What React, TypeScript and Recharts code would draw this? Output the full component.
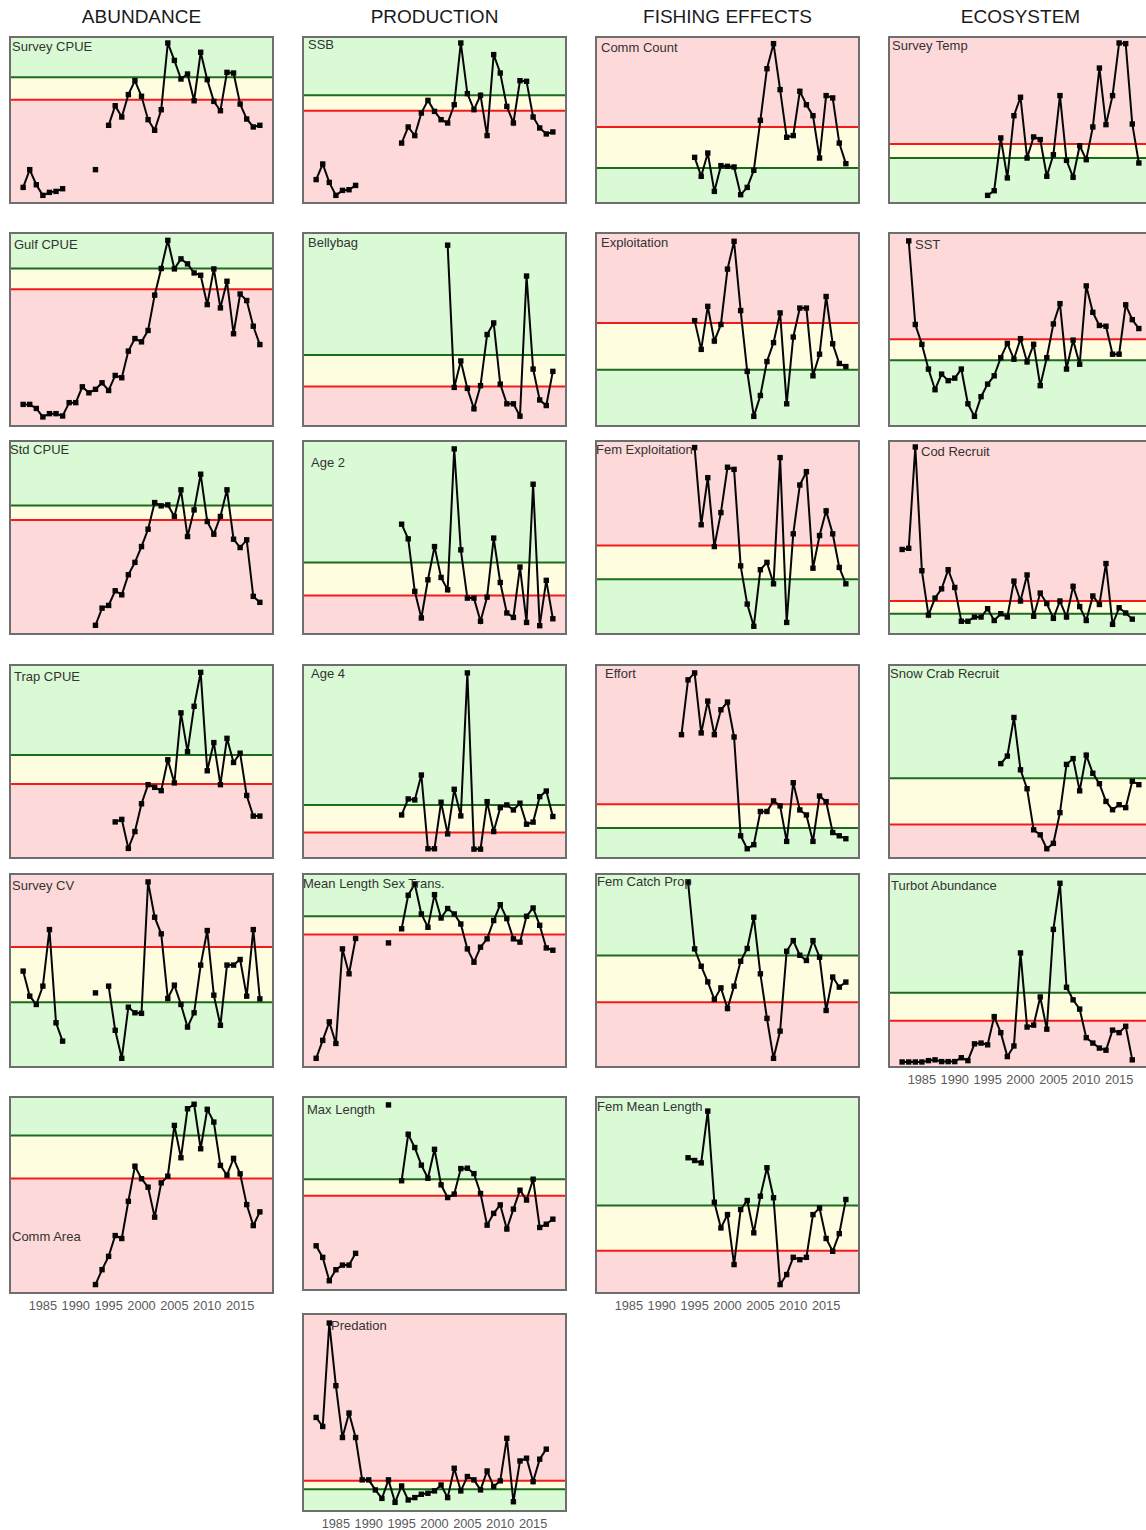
import React from 'react';
import { LineChart, Line, XAxis, YAxis, ReferenceArea, ReferenceLine } from 'recharts';

const N = null;
const years = [1982, 1983, 1984, 1985, 1986, 1987, 1988, 1989, 1990, 1991, 1992, 1993, 1994, 1995, 1996, 1997, 1998, 1999, 2000, 2001, 2002, 2003, 2004, 2005, 2006, 2007, 2008, 2009, 2010, 2011, 2012, 2013, 2014, 2015, 2016, 2017, 2018];
const tickYears = [1985, 1990, 1995, 2000, 2005, 2010, 2015];
const headers = ['ABUNDANCE', 'PRODUCTION', 'FISHING EFFECTS', 'ECOSYSTEM'];

// ABUNDANCE
const surveyCpue = [9.4, 20.1, 11.0, 4.6, 6.4, 7.0, 8.6, N, N, N, N, 20.1, N, 46.8, 58.6, 51.8, 65.3, 73.7, 64.3, 50.2, 43.8, 56.2, 96.4, 85.9, 74.7, 77.7, 61.6, 90.8, 74.3, 61.2, 55.6, 78.7, 78.3, 59.6, 50.6, 45.8, 46.8];
const gulfCpue = [11.2, 11.2, 9.1, 4.7, 6.4, 6.4, 5.2, 12.1, 12.1, 20.3, 17.2, 19.0, 22.4, 18.4, 26.2, 25.0, 38.8, 45.3, 43.6, 49.5, 67.8, 81.6, 96.2, 81.4, 86.6, 84.0, 79.3, 78.1, 62.9, 81.4, 61.2, 75.0, 47.8, 68.4, 65.0, 51.7, 42.2];
const stdCpue = [N, N, N, N, N, N, N, N, N, N, N, 4.5, 13.4, 14.8, 22.4, 20.3, 30.7, 37.1, 45.3, 54.3, 68.1, 66.4, 66.9, 60.9, 74.7, 50.5, 64.3, 82.8, 58.3, 51.7, 60.9, 74.7, 49.1, 44.8, 48.8, 19.5, 16.4];
const trapCpue = [N, N, N, N, N, N, N, N, N, N, N, N, N, N, 18.7, 20.0, 5.0, 13.7, 28.1, 38.0, 36.6, 34.9, 50.9, 38.9, 75.2, 55.1, 78.6, 96.2, 45.2, 59.8, 38.0, 62.0, 49.5, 54.3, 32.4, 21.7, 21.7];
const surveyCv = [49.7, 36.7, 32.4, 41.9, 71.2, 22.9, 13.4, N, N, N, N, 38.4, N, 41.9, 19.0, 4.5, 31.0, 28.1, 27.8, 95.9, 77.6, 69.0, 35.5, 42.4, 32.4, 20.7, 28.1, 52.8, 70.7, 37.2, 21.6, 52.8, 52.8, 55.7, 36.7, 71.2, 35.3];
const commArea = [N, N, N, N, N, N, N, N, N, N, N, 4.3, 11.9, 18.7, 29.3, 27.8, 46.8, 64.7, 58.3, 54.0, 38.7, 56.2, 59.6, 85.5, 69.0, 94.0, 96.3, 73.6, 93.7, 87.2, 65.1, 60.1, 68.7, 60.8, 45.1, 34.4, 41.4];

// PRODUCTION
const ssb = [14.1, 23.5, 12.4, 4.6, 7.6, 8.0, 10.6, N, N, N, N, N, N, 36.1, 45.8, 40.6, 54.2, 61.8, 55.2, 50.2, 48.2, 59.2, 96.4, 65.9, 56.2, 64.9, 40.6, 89.4, 78.3, 58.2, 48.2, 73.7, 73.3, 51.8, 45.2, 41.6, 42.8];
const bellybag = [N, N, N, N, N, N, N, N, N, N, N, N, N, N, N, N, N, N, N, N, 93.7, 20.0, 33.7, 19.5, 8.9, 20.9, 47.4, 53.4, 21.7, 11.5, 11.5, 5.1, 77.7, 29.5, 13.5, 10.6, 28.3];
const age2 = [N, N, N, N, N, N, N, N, N, N, N, N, N, 56.9, 49.3, 22.1, 8.3, 28.1, 45.3, 29.3, 22.9, 95.9, 43.6, 18.6, 18.6, 6.6, 19.1, 49.7, 26.7, 10.9, 8.6, 34.7, 6.0, 77.6, 4.3, 27.8, 7.9];
const age4 = [N, N, N, N, N, N, N, N, N, N, N, N, N, 22.3, 30.6, 30.1, 43.0, 4.8, 4.8, 28.9, 12.5, 35.6, 21.8, 95.9, 4.6, 4.6, 29.2, 13.7, 26.1, 27.5, 24.9, 28.4, 17.5, 18.6, 31.8, 34.7, 21.5];
const meanLenSexTrans = [4.5, 13.8, 23.4, 12.2, 61.2, 48.3, 66.6, N, N, N, N, 64.3, N, 71.6, 89.0, 94.8, 79.3, 72.4, 89.3, 77.2, 82.1, 79.3, 74.1, 61.2, 54.3, 62.1, 66.4, 75.9, 84.1, 76.9, 66.4, 64.7, 78.1, 82.4, 73.4, 61.7, 60.5];
const maxLength = [22.9, 16.9, 4.8, 10.5, 12.9, 12.9, 19.0, N, N, N, N, 95.9, N, 56.6, 80.7, 73.8, 64.7, 57.9, 72.9, 54.5, 47.9, 49.7, 62.9, 63.1, 60.3, 50.0, 33.6, 39.7, 44.1, 31.6, 41.9, 51.7, 46.6, 57.4, 32.4, 34.1, 36.7];
const predation = [47.5, 42.9, 95.4, 63.6, 37.3, 49.7, 37.3, 15.8, 15.8, 10.7, 6.4, 15.8, 4.4, 12.7, 5.6, 6.8, 8.5, 9.0, 10.2, 13.2, 6.8, 21.7, 10.2, 17.5, 15.8, 10.7, 20.3, 12.4, 15.3, 36.9, 4.7, 25.4, 26.8, 14.9, 26.3, 31.4, N];

// FISHING EFFECTS
const commCount = [N, N, N, N, N, N, N, N, N, N, N, N, N, 27.5, 16.1, 30.1, 7.0, 22.5, 22.1, 21.7, 5.0, 9.4, 19.7, 49.8, 80.9, 96.0, 68.3, 39.6, 40.6, 67.3, 59.2, 52.6, 27.1, 64.7, 63.3, 36.1, 23.7];
const exploitation = [N, N, N, N, N, N, N, N, N, N, N, N, N, 54.6, 39.7, 62.0, 44.0, 52.6, 81.3, 95.7, 59.8, 28.3, 5.0, 15.8, 33.4, 43.2, 58.6, 11.5, 46.1, 61.1, 61.1, 26.0, 37.2, 67.1, 42.6, 32.4, 30.8];
const femExploitation = [N, N, N, N, N, N, N, N, N, N, N, N, N, 96.6, 56.6, 81.0, 45.3, 62.9, 86.4, 85.3, 35.3, 15.5, 4.0, 33.3, 37.1, 26.0, 91.4, 6.0, 51.9, 77.2, 84.1, 34.1, 51.0, 63.8, 51.9, 34.5, 26.0];
const effort = [N, N, N, N, N, N, N, N, N, N, N, 63.9, 92.3, 95.9, 64.8, 81.3, 63.9, 76.8, 80.8, 62.7, 11.5, 4.8, 6.9, 24.1, 24.1, 29.6, 27.0, 8.6, 39.0, 24.9, 22.3, 8.6, 32.1, 29.2, 13.2, 11.5, 10.0];
const femCatchProp = [N, N, N, N, N, N, N, N, N, N, N, N, 95.9, 61.2, 52.2, 44.1, 35.0, 41.0, 30.3, 41.9, 54.8, 61.4, 77.6, 48.3, 25.2, 4.5, 18.6, 60.0, 65.5, 57.9, 55.2, 65.5, 56.9, 29.3, 46.6, 41.4, 44.0];
const femMeanLength = [N, N, N, N, N, N, N, N, N, N, N, N, 69.0, 67.6, 66.4, 92.8, 46.3, 33.2, 40.0, 14.5, 42.6, 47.2, 30.7, 49.4, 63.9, 48.6, 4.3, 9.4, 18.2, 17.0, 18.2, 40.0, 43.4, 27.8, 21.3, 30.3, 47.7];

// ECOSYSTEM
const surveyTemp = [N, N, N, N, N, N, N, N, N, N, N, N, N, 4.6, 7.4, 39.2, 15.1, 52.6, 63.7, 27.1, 39.8, 38.2, 16.1, 29.1, 64.7, 25.7, 15.5, 34.5, 26.1, 45.8, 81.3, 47.2, 64.7, 96.4, 96.0, 47.6, 24.1];
const sst = [N, 95.9, 52.6, 42.3, 29.5, 18.8, 26.9, 23.5, 24.8, 29.5, 11.5, 5.0, 15.2, 21.7, 26.0, 35.4, 42.8, 34.6, 45.2, 33.2, 42.3, 20.9, 35.4, 52.9, 63.4, 29.5, 44.5, 32.0, 72.6, 58.9, 52.1, 51.7, 37.2, 37.2, 62.8, 55.1, 50.5];
const codRecruit = [43.8, 44.4, 96.9, 32.8, 9.8, 18.6, 23.4, 33.3, 24.1, 6.6, 6.6, 8.8, 8.8, 13.1, 7.0, 10.5, 8.8, 27.4, 17.1, 30.6, 9.2, 21.2, 15.8, 8.1, 17.1, 8.8, 24.7, 14.2, 7.0, 19.7, 15.3, 36.5, 5.0, 13.6, 10.9, 7.7, N];
const snowCrabRecruit = [N, N, N, N, N, N, N, N, N, N, N, N, N, N, N, 48.9, 52.8, 72.8, 45.7, 35.9, 14.6, 12.0, 4.8, 7.6, 23.5, 48.5, 51.5, 34.8, 53.3, 43.9, 38.5, 29.3, 25.0, 27.6, 26.1, 39.8, 38.0];
const turbotAbundance = [2.6, 2.6, 2.6, 2.6, 3.3, 3.7, 2.8, 2.8, 2.8, 4.8, 3.3, 12.0, 12.4, 11.5, 26.1, 17.8, 5.4, 10.9, 59.1, 20.7, 21.7, 36.3, 19.6, 71.3, 95.2, 41.3, 34.8, 30.0, 15.2, 12.4, 9.8, 8.7, 19.1, 17.8, 21.1, 3.7, N];

const GREEN_BAND = '#dafad5';
const YELLOW_BAND = '#fefde0';
const PINK_BAND = '#fdd9d9';
const GREEN_LINE = '#1d6b1d';
const RED_LINE = '#f51a1a';
const FONT = '"Liberation Sans", Arial, Helvetica, sans-serif';
const W = 263;
const AXIS_H = 24;

type Def = {
  label: string; values: (number | null)[]; green: number; red: number;
  x: number; y: number; h: number; axis?: boolean; lx: number; ly: number;
};

const C1 = 10, C2 = 303, C3 = 596, C4 = 889;

const panels: Def[] = [
  { label: 'Survey CPUE', values: surveyCpue, green: 75.7, red: 62.2, x: C1, y: 37, h: 166, lx: 12, ly: 51 },
  { label: 'Gulf CPUE', values: gulfCpue, green: 81.6, red: 70.9, x: C1, y: 233, h: 193, lx: 14, ly: 249 },
  { label: 'Std CPUE', values: stdCpue, green: 66.6, red: 59.1, x: C1, y: 441, h: 193, lx: 10, ly: 454 },
  { label: 'Trap CPUE', values: trapCpue, green: 53.4, red: 38.4, x: C1, y: 665, h: 193, lx: 14, ly: 681 },
  { label: 'Survey CV', values: surveyCv, green: 33.6, red: 62.2, x: C1, y: 874, h: 193, lx: 12, ly: 890 },
  { label: 'Comm Area', values: commArea, green: 80.4, red: 58.4, x: C1, y: 1097, h: 196, axis: true, lx: 12, ly: 1241 },

  { label: 'SSB', values: ssb, green: 64.9, red: 55.6, x: C2, y: 37, h: 166, lx: 308, ly: 49 },
  { label: 'Bellybag', values: bellybag, green: 36.8, red: 20.5, x: C2, y: 233, h: 193, lx: 308, ly: 247 },
  { label: 'Age 2', values: age2, green: 37.1, red: 20.0, x: C2, y: 441, h: 193, lx: 311, ly: 467 },
  { label: 'Age 4', values: age4, green: 27.5, red: 13.2, x: C2, y: 665, h: 193, lx: 311, ly: 678 },
  { label: 'Mean Length Sex Trans.', values: meanLenSexTrans, green: 78.1, red: 68.6, x: C2, y: 874, h: 193, lx: 303, ly: 888 },
  { label: 'Max Length', values: maxLength, green: 57.4, red: 48.8, x: C2, y: 1097, h: 193, lx: 307, ly: 1114 },
  { label: 'Predation', values: predation, green: 11.0, red: 15.4, x: C2, y: 1314, h: 197, axis: true, lx: 331, ly: 1330 },

  { label: 'Comm Count', values: commCount, green: 21.1, red: 45.8, x: C3, y: 37, h: 166, lx: 601, ly: 52 },
  { label: 'Exploitation', values: exploitation, green: 29.1, red: 53.4, x: C3, y: 233, h: 193, lx: 601, ly: 247 },
  { label: 'Fem Exploitation', values: femExploitation, green: 28.4, red: 45.9, x: C3, y: 441, h: 193, lx: 596, ly: 454 },
  { label: 'Effort', values: effort, green: 15.5, red: 27.8, x: C3, y: 665, h: 193, lx: 605, ly: 678 },
  { label: 'Fem Catch Prop', values: femCatchProp, green: 57.8, red: 33.6, x: C3, y: 874, h: 193, lx: 597, ly: 886 },
  { label: 'Fem Mean Length', values: femMeanLength, green: 44.6, red: 21.6, x: C3, y: 1097, h: 196, axis: true, lx: 597, ly: 1111 },

  { label: 'Survey Temp', values: surveyTemp, green: 27.1, red: 35.5, x: C4, y: 37, h: 166, lx: 892, ly: 50 },
  { label: 'SST', values: sst, green: 34.1, red: 44.9, x: C4, y: 233, h: 193, lx: 915, ly: 249 },
  { label: 'Cod Recruit', values: codRecruit, green: 10.5, red: 17.1, x: C4, y: 441, h: 193, lx: 921, ly: 456 },
  { label: 'Snow Crab Recruit', values: snowCrabRecruit, green: 41.3, red: 17.4, x: C4, y: 665, h: 193, lx: 890, ly: 678 },
  { label: 'Turbot Abundance', values: turbotAbundance, green: 38.5, red: 23.9, x: C4, y: 874, h: 193, axis: true, lx: 891, ly: 890 },
];

const SquareDot = (props: any) => {
  const { cx, cy, value, index } = props;
  if (cx == null || cy == null || value == null || Number.isNaN(cy)) return <g key={`e${index}`} />;
  return <rect key={`d${index}`} x={cx - 2.7} y={cy - 2.7} width={5.4} height={5.4} fill="#050505" />;
};

function Panel({ def }: { def: Def }) {
  const { label, values, green, red, x, y, h, axis, lx, ly } = def;
  const data = years.map((yr, i) => ({ year: yr, v: values[i] }));
  const goodHigh = green > red;
  const hi = Math.max(green, red);
  const lo = Math.min(green, red);
  const topFill = goodHigh ? GREEN_BAND : PINK_BAND;
  const botFill = goodHigh ? PINK_BAND : GREEN_BAND;
  const chartH = h + (axis ? AXIS_H : 0);
  return (
    <>
      <div style={{ position: 'absolute', left: x, top: y }}>
        <LineChart width={W} height={chartH} data={data} margin={{ top: 0, right: 0, bottom: 0, left: 0 }}>
          <XAxis
            dataKey="year"
            type="number"
            domain={[1980, 2020]}
            ticks={tickYears}
            interval={0}
            hide={!axis}
            height={AXIS_H}
            tickLine={false}
            axisLine={false}
            tick={{ fontSize: 12.8, fill: '#5a5a5a', fontFamily: FONT }}
          />
          <YAxis type="number" domain={[0, 100]} hide />
          <ReferenceArea y1={hi} y2={100} fill={topFill} fillOpacity={1} stroke="none" />
          <ReferenceArea y1={lo} y2={hi} fill={YELLOW_BAND} fillOpacity={1} stroke="none" />
          <ReferenceArea y1={0} y2={lo} fill={botFill} fillOpacity={1} stroke="none" />
          <ReferenceLine y={green} stroke={GREEN_LINE} strokeWidth={2} />
          <ReferenceLine y={red} stroke={RED_LINE} strokeWidth={2} />
          <Line
            dataKey="v"
            stroke="#050505"
            strokeWidth={2}
            connectNulls={false}
            dot={SquareDot}
            activeDot={false}
            isAnimationActive={false}
          />
        </LineChart>
      </div>
      <div
        style={{
          position: 'absolute', left: x - 1, top: y - 1, width: W + 2, height: h + 2,
          border: '2px solid #6e6e6e', boxSizing: 'border-box', pointerEvents: 'none',
        }}
      />
      <div
        style={{
          position: 'absolute', left: lx, top: ly - 11, fontSize: 13, lineHeight: '13px',
          fontFamily: FONT, color: '#333', whiteSpace: 'nowrap',
        }}
      >
        {label}
      </div>
    </>
  );
}

export default function App() {
  const colLefts = [C1, C2, C3, C4];
  return (
    <div style={{ position: 'absolute', left: 0, top: 0, width: 1146, height: 1530, overflow: 'hidden', background: '#fff' }}>
      {headers.map((t, i) => (
        <div
          key={t}
          style={{
            position: 'absolute', left: colLefts[i], top: 6, width: W, textAlign: 'center',
            fontSize: 19, lineHeight: '22px', fontFamily: FONT, color: '#1a1a1a', whiteSpace: 'nowrap',
          }}
        >
          {t}
        </div>
      ))}
      {panels.map((p) => (
        <Panel key={p.label} def={p} />
      ))}
    </div>
  );
}
